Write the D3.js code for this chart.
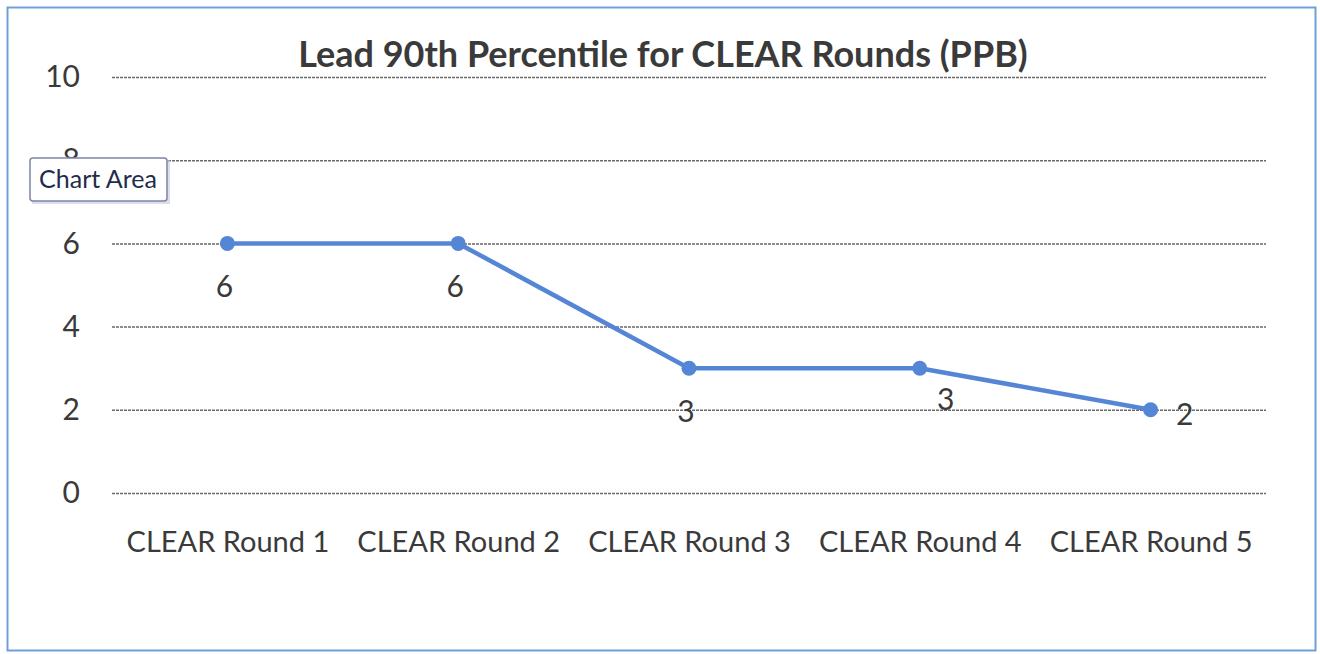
<!DOCTYPE html>
<html>
<head>
<meta charset="utf-8">
<script src="https://cdn.jsdelivr.net/npm/d3@7"></script>
<style>
  body { margin: 0; background: #fff; }
  text { font-family: Lato, "Open Sans", sans-serif; }
</style>
</head>
<body>
<script>
// chart data
const categories = ["CLEAR Round 1", "CLEAR Round 2", "CLEAR Round 3", "CLEAR Round 4", "CLEAR Round 5"];
const values = [6, 6, 3, 3, 2];
const yTicks = [0, 2, 4, 6, 8, 10];
// where Excel put each data label
const labelPos = ["below", "below", "below", "above", "right"];

const width = 1320;
const height = 654;
const margin = { top: 77, right: 54, bottom: 161, left: 112 };

const svg = d3.select('body')
  .append('svg')
  .attr('width', width)
  .attr('height', height);

// chart area frame
svg.append('rect')
  .attr('x', 7.5).attr('y', 7.5)
  .attr('width', 1308).attr('height', 643)
  .attr('fill', '#fff')
  .attr('stroke', '#6f9fd8')
  .attr('stroke-width', 2);

const x = d3.scalePoint()
  .domain(categories)
  .range([margin.left, width - margin.right])
  .padding(0.5);

const y = d3.scaleLinear()
  .domain([0, 10])
  .range([height - margin.bottom, margin.top]);

// gridlines + y labels
const yAxis = svg.append('g')
  .attr('transform', `translate(${margin.left},0)`)
  .call(d3.axisLeft(y).tickValues(yTicks).tickSize(-(width - margin.left - margin.right)));
yAxis.select('.domain').remove();
yAxis.selectAll('.tick line')
  .attr('stroke', '#6a6a6a')
  .attr('stroke-width', 1.5)
  .attr('stroke-dasharray', '3,1');
yAxis.selectAll('.tick text')
  .attr('fill', '#3a3a3a')
  .style('font-size', '30px')
  .attr('text-anchor', 'end')
  .attr('x', -32);

// category labels
const xAxis = svg.append('g')
  .attr('transform', `translate(0,${height - margin.bottom})`)
  .call(d3.axisBottom(x).tickSize(0));
xAxis.select('.domain').remove();
xAxis.selectAll('.tick text')
  .attr('fill', '#3a3a3a')
  .attr('y', 59)
  .attr('dy', 0)
  .style('font-size', '29px');

// title
svg.append('text')
  .attr('x', 663)
  .attr('y', 67)
  .attr('text-anchor', 'middle')
  .attr('fill', '#3a3a3a')
  .style('font-size', '36px')
  .style('font-weight', 'bold')
  .text('Lead 90th Percentile for CLEAR Rounds (PPB)');

// line
const line = d3.line()
  .x((d, i) => x(categories[i]))
  .y(d => y(d));

svg.append('path')
  .datum(values)
  .attr('fill', 'none')
  .attr('stroke', '#5586d6')
  .attr('stroke-width', 4.5)
  .attr('d', line);

svg.selectAll('circle.pt')
  .data(values)
  .enter().append('circle')
  .attr('class', 'pt')
  .attr('cx', (d, i) => x(categories[i]))
  .attr('cy', d => y(d))
  .attr('r', 7.5)
  .attr('fill', '#5586d6');

// data labels
svg.selectAll('text.lbl')
  .data(values)
  .enter().append('text')
  .attr('class', 'lbl')
  .attr('x', (d, i) => {
    const cx = x(categories[i]);
    if (labelPos[i] === 'right') return cx + 34;
    if (labelPos[i] === 'above') return cx + 26;
    return cx - 3;
  })
  .attr('y', (d, i) => {
    const cy = y(d);
    if (labelPos[i] === 'right') return cy + 15;
    if (labelPos[i] === 'above') return cy + 42;
    return cy + 54;
  })
  .attr('text-anchor', 'middle')
  .attr('fill', '#3a3a3a')
  .style('font-size', '30px')
  .text(d => d);

// "Chart Area" tooltip left over from the screenshot
const tip = svg.append('g').attr('transform', 'translate(30,158)');
tip.append('rect')
  .attr('x', 2).attr('y', 2)
  .attr('width', 138).attr('height', 44)
  .attr('fill', '#c8c8d8')
  .attr('opacity', 0.6);
tip.append('rect')
  .attr('width', 137).attr('height', 43)
  .attr('rx', 3)
  .attr('fill', '#fff')
  .attr('stroke', '#7d84a8')
  .attr('stroke-width', 1.5);
tip.append('text')
  .attr('x', 68).attr('y', 30)
  .attr('text-anchor', 'middle')
  .attr('fill', '#1f2d4d')
  .style('font-size', '25px')
  .text('Chart Area');
</script>
</body>
</html>
